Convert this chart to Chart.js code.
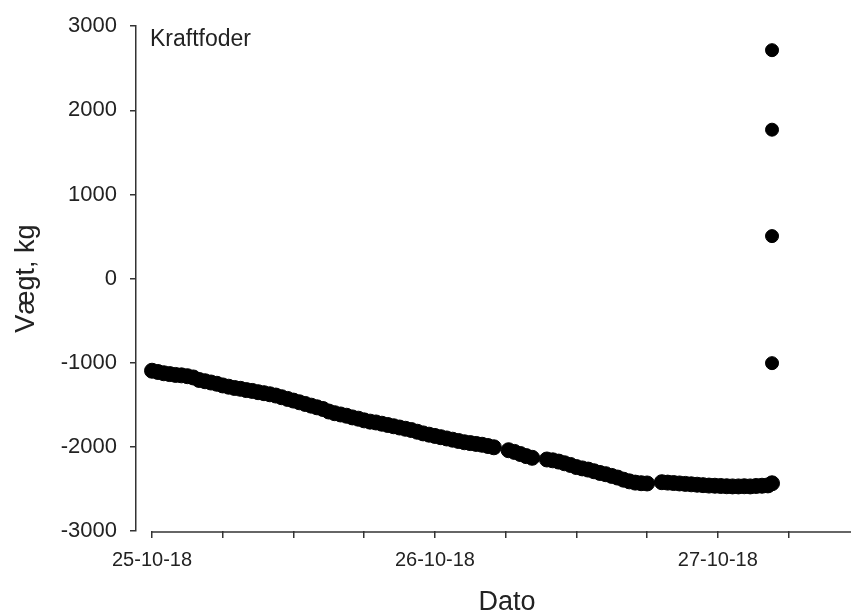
<!DOCTYPE html>
<html>
<head>
<meta charset="utf-8">
<script src="https://cdn.jsdelivr.net/npm/chart.js@4/dist/chart.umd.min.js"></script>
<style>
  body { margin: 0; background: #fff; }
  #wrap { width: 851px; height: 616px; position: relative; }
</style>
</head>
<body>
<div id="wrap"><canvas id="vaegtChart"></canvas></div>
<script>
// Timer efter 25-10-18 kl. 00:00 og vaegt i kg (aflaest fra figuren)
const hours = [
  0, 0.5, 1, 1.5, 2, 2.5, 3, 3.5, 4, 4.5, 5, 5.5, 6, 6.5, 7, 7.5, 8, 8.5, 9, 9.5,
  10, 10.5, 11, 11.5, 12, 12.5, 13, 13.5, 14, 14.5, 15, 15.5, 16, 16.5, 17, 17.5,
  18, 18.5, 19, 19.5, 20, 20.5, 21, 21.5, 22, 22.5, 23, 23.5, 24, 24.5, 25, 25.5,
  26, 26.5, 27, 27.5, 28, 28.5, 29,
  30.25, 30.75, 31.25, 31.75, 32.25,
  33.5, 34, 34.5, 35, 35.5, 36, 36.5, 37, 37.5, 38, 38.5, 39, 39.5, 40, 40.5, 41, 41.5, 42,
  43.25, 43.75, 44.25, 44.75, 45.25, 45.75, 46.25, 46.75, 47.25, 47.75, 48.25, 48.75, 49.25, 49.75, 50.25, 50.75, 51.25, 51.75, 52.25, 52.6
];
const weights = [
  -1095, -1110, -1125, -1135, -1145, -1150, -1160, -1175, -1205, -1220, -1235, -1250, -1270, -1285, -1300, -1310, -1325, -1335, -1350, -1362,
  -1375, -1390, -1410, -1430, -1450, -1470, -1490, -1510, -1530, -1550, -1580, -1600, -1615, -1630, -1650, -1665,
  -1685, -1700, -1710, -1725, -1740, -1755, -1770, -1785, -1800, -1820, -1840, -1855, -1870, -1885, -1900, -1915,
  -1930, -1945, -1955, -1965, -1975, -1990, -2005,
  -2040, -2060, -2085, -2110, -2130,
  -2150, -2160, -2175, -2195, -2215, -2240, -2256, -2270, -2290, -2310, -2325, -2345, -2365, -2390, -2410, -2425, -2432, -2435,
  -2420, -2425, -2430, -2435, -2440, -2445, -2450, -2455, -2460, -2462, -2465, -2468, -2470, -2470, -2468, -2470, -2465, -2462, -2458, -2433
];
// afvigende maalinger til sidst
const outlierHours = [52.6, 52.6, 52.6, 52.6];
const outlierWeights = [2715, 1770, 505, -1005];

const tickHours = [0, 6, 12, 18, 24, 30, 36, 42, 48, 54];
const dayLabels = { 0: '25-10-18', 24: '26-10-18', 48: '27-10-18' };
const yTicks = [-3000, -2000, -1000, 0, 1000, 2000, 3000];

const mainPts = hours.map((h, i) => ({ x: h, y: weights[i] }));
const outPts = outlierHours.map((h, i) => ({ x: h, y: outlierWeights[i] }));

const txt = '#222';
const axisCol = '#333';
const fam = '"Liberation Sans", Arial, sans-serif';

// x-aksen starter ved foerste tick (forskudt akse), samt tekster
const extraDraw = {
  id: 'extraDraw',
  afterDraw(chart) {
    const ctx = chart.ctx;
    const xs = chart.scales.x;
    const area = chart.chartArea;
    ctx.save();
    ctx.strokeStyle = axisCol;
    ctx.lineWidth = 1.5;
    ctx.beginPath();
    ctx.moveTo(xs.getPixelForValue(tickHours[0]), xs.top + 1);
    ctx.lineTo(area.right, xs.top + 1);
    ctx.stroke();
    ctx.fillStyle = txt;
    ctx.font = '27px ' + fam;
    ctx.textAlign = 'center';
    ctx.textBaseline = 'middle';
    ctx.fillText('Dato', 507, 603);
    ctx.font = '23px ' + fam;
    ctx.textAlign = 'left';
    ctx.textBaseline = 'alphabetic';
    ctx.fillText('Kraftfoder', 150, 46);
    ctx.restore();
  }
};

new Chart(document.getElementById('vaegtChart').getContext('2d'), {
  type: 'scatter',
  data: {
    datasets: [
      { label: 'Kraftfoder', data: mainPts, backgroundColor: '#000', borderColor: '#000', pointRadius: 7.5, pointHoverRadius: 7.5 },
      { label: 'Afvigere', data: outPts, backgroundColor: '#000', borderColor: '#000', pointRadius: 6.5, pointHoverRadius: 6.5 }
    ]
  },
  options: {
    responsive: true,
    maintainAspectRatio: false,
    animation: false,
    layout: { autoPadding: false, padding: { top: 23, right: 0, bottom: 0, left: 0 } },
    plugins: { legend: { display: false }, tooltip: { enabled: false } },
    scales: {
      x: {
        type: 'linear',
        min: -1.36,
        max: 59.3,
        afterFit: s => { s.height = 85; },
        afterBuildTicks: s => { s.ticks = tickHours.map(v => ({ value: v })); },
        border: { display: false },
        grid: { drawOnChartArea: false, drawTicks: true, tickLength: 7, color: axisCol, lineWidth: 1.5 },
        ticks: {
          padding: 10,
          autoSkip: false,
          maxRotation: 0,
          color: txt,
          font: { family: fam, size: 20 },
          callback: v => dayLabels[v] || ''
        }
      },
      y: {
        min: -3000,
        max: 3000,
        afterFit: s => { s.width = 136; },
        afterBuildTicks: s => { s.ticks = yTicks.map(v => ({ value: v })); },
        border: { display: true, color: axisCol, width: 1.5 },
        grid: { drawOnChartArea: false, drawTicks: true, tickLength: 6, color: axisCol, lineWidth: 1.5 },
        ticks: {
          padding: 13,
          color: txt,
          font: { family: fam, size: 22 },
          callback: v => String(v)
        },
        title: {
          display: true,
          text: 'Vægt, kg',
          color: txt,
          padding: { top: 10, bottom: 0 },
          font: { family: fam, size: 27 }
        }
      }
    }
  },
  plugins: [extraDraw]
});
</script>
</body>
</html>
